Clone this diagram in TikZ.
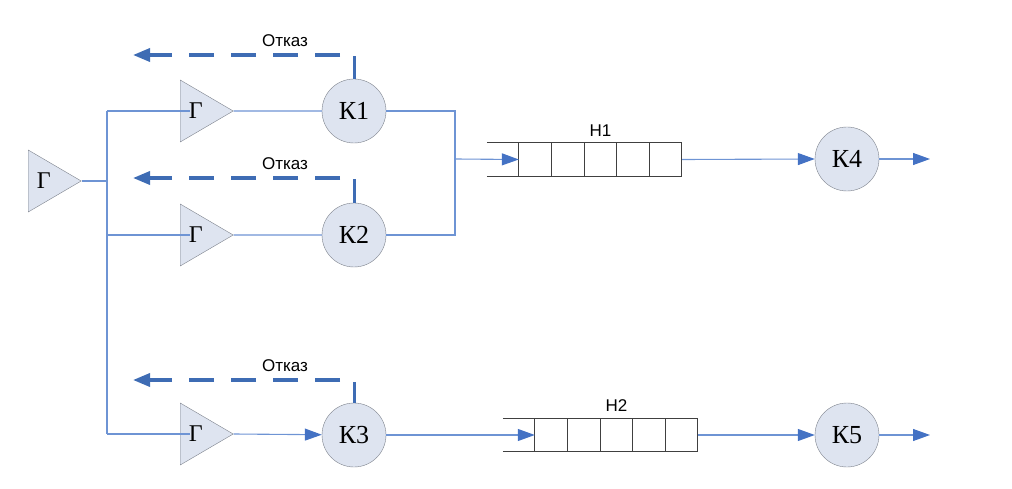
\documentclass[tikz,border=0pt]{standalone}
\usepackage{fontspec}
\setmainfont{Liberation Serif}
\newfontfamily\tagfont{Liberation Sans}
\usetikzlibrary{shapes.geometric,arrows.meta}

\definecolor{linkblue}{RGB}{110,148,212}
\definecolor{dashblue}{RGB}{62,108,180}
\definecolor{tipblue}{RGB}{68,114,196}
\definecolor{nodefill}{RGB}{222,228,240}
\definecolor{nodeedge}{RGB}{125,130,140}

\tikzset{
  gen/.style={isosceles triangle, isosceles triangle stretches, shape border rotate=0,
    draw=nodeedge, fill=nodefill, minimum width=62pt, minimum height=53pt, inner sep=0pt,
    font=\fontsize{24}{28}\selectfont},
  chan/.style={circle, draw=nodeedge, fill=nodefill, minimum size=64pt, inner sep=0pt,
    font=\fontsize{26}{30}\selectfont},
  queue/.style={minimum width=163pt, minimum height=33pt, inner sep=0pt},
  cell/.style={draw=black!75, line width=0.8pt},
  link/.style={draw=linkblue, line width=1.1pt},
  flow/.style={link, -{Triangle[length=17pt,width=12pt,color=tipblue]}},
  refuse/.style={draw=dashblue, line width=3.5pt, dash pattern=on 25pt off 17pt,
    dash phase=28pt, -{Triangle[length=17pt,width=13pt]}},
  tag/.style={font=\tagfont\fontsize{17}{20}\selectfont}
}

\begin{document}
\begin{tikzpicture}[x=1pt,y=-1pt]
  \useasboundingbox (0,0) rectangle (1012,489);

  % sources and channels
  \node[gen, anchor=west] (Gin) at (28,181) {Г};
  \node[gen, anchor=west] (G1) at (180,111) {Г};
  \node[gen, anchor=west] (G2) at (180,235) {Г};
  \node[gen, anchor=west] (G3) at (180,434) {Г};
  \node[chan] (K1) at (354,111) {К1};
  \node[chan] (K2) at (354,235) {К2};
  \node[chan] (K3) at (354,435) {К3};
  \node[chan] (K4) at (847,159) {К4};
  \node[chan] (K5) at (847,435) {К5};

  % queues
  \node[queue] (H1) at (600.5,159.5) {};
  \node[queue] (H2) at (616.5,435) {};
  \node[tag, above=3pt] at (H1.north) {Н1};
  \node[tag, above=3pt] at (H2.north) {Н2};
  \foreach \q in {H1,H2} {
    \draw[cell] ([xshift=-32pt]\q.north west) -- (\q.north east);
    \draw[cell] ([xshift=-32pt]\q.south west) -- (\q.south east);
    \foreach \i in {0,...,5}
      \draw[cell] ([xshift=\i*32.6pt]\q.north west) -- ([xshift=\i*32.6pt]\q.south west);
  }

  % wiring
  \coordinate (top) at (107,111);
  \coordinate (bot) at (107,434);
  \coordinate (join) at (455,159);
  \coordinate (out4) at (930,159);
  \coordinate (out5) at (930,435);
  \path[link] (Gin.east) -- (Gin.east -| top);
  \path[link] (top) -- (bot);
  \path[link] (top) -- ([xshift=10pt]G1.west);
  \path[link] (G2.west -| top) -- ([xshift=10pt]G2.west);
  \path[link] (bot) -- ([xshift=10pt]G3.west);
  \path[link] (G1.apex) -- (K1);
  \path[link] (G2.apex) -- (K2);
  \path[flow] (G3.apex) -- (K3);
  \path[link] (K1.east) -| (join);
  \path[link] (K2.east) -| (join);
  \path[flow] (join) -- (H1.west);
  \path[flow] (K3.east) -- (H2.west);
  \path[flow] (H1.east) -- (K4.west);
  \path[flow] (H2.east) -- (K5.west);
  \path[flow] (K4.east) -- (out4);
  \path[flow] (K5.east) -- (out5);

  % refusals
  \foreach \k/\y in {K1/55,K2/178,K3/380} {
    \coordinate (up\k) at (354,\y);
    \coordinate (lost\k) at (133,\y);
    \draw[draw=dashblue, line width=3pt] (\k.north) -- ([yshift=-1.5pt]up\k);
    \draw[refuse] (up\k) -- (lost\k);
    \node[tag] at (285,\y-14) {Отказ};
  }
\end{tikzpicture}
\end{document}
